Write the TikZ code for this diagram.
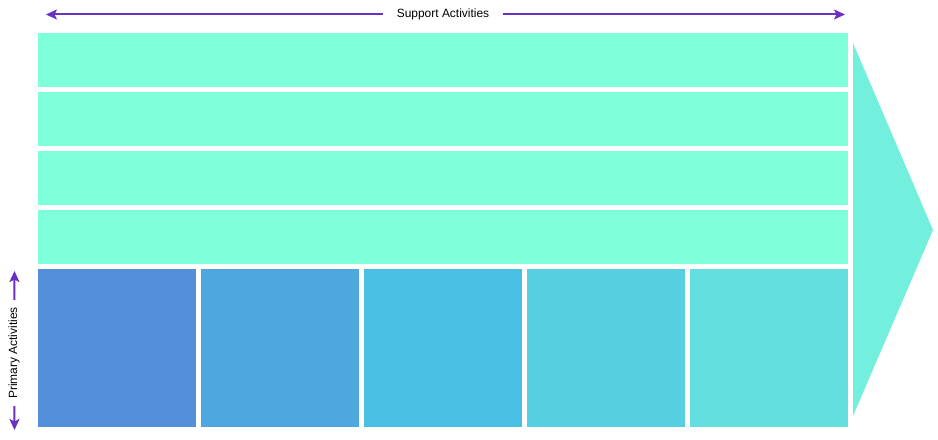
\documentclass[tikz,border=0pt]{standalone}
\usepackage{fontspec}
\setmainfont{Liberation Sans}
\usetikzlibrary{arrows.meta,positioning}
\definecolor{supportfill}{HTML}{80FFDB}
\definecolor{marginfill}{HTML}{72EFDD}
\definecolor{inbound}{HTML}{5390D9}
\definecolor{operations}{HTML}{4EA8DE}
\definecolor{outbound}{HTML}{48BFE3}
\definecolor{marketing}{HTML}{56CFE1}
\definecolor{service}{HTML}{64DFDF}
\definecolor{arrowpurple}{HTML}{6930C3}

\begin{document}
\begin{tikzpicture}[x=1bp,y=-1bp,node distance=5bp,>={Stealth[length=11bp,width=10bp,inset=2.5bp]}]
  \tikzstyle{supportrow}=[fill=supportfill,minimum width=810bp,minimum height=54bp,inner sep=0pt,outer sep=0pt]
  \tikzstyle{primarybox}=[minimum width=158bp,minimum height=158bp,inner sep=0pt,outer sep=0pt]
  \tikzstyle{label}=[font=\fontsize{12}{14}\selectfont,inner sep=0pt]
  \tikzstyle{span}=[draw=arrowpurple,line width=2bp,->]
  \useasboundingbox (0,0) rectangle (938,440);
  % support activities
  \node[supportrow] (sup1) at (443,60) {};
  \node[supportrow,below=of sup1] (sup2) {};
  \node[supportrow,below=of sup2] (sup3) {};
  \node[supportrow,below=of sup3] (sup4) {};
  % primary activities
  \node[primarybox,fill=inbound] (prim1) at (117,348) {};
  \node[primarybox,fill=operations,right=of prim1] (prim2) {};
  \node[primarybox,fill=outbound,right=of prim2] (prim3) {};
  \node[primarybox,fill=marketing,right=of prim3] (prim4) {};
  \node[primarybox,fill=service,right=of prim4] (prim5) {};
  % margin
  \coordinate (mtop) at (853,43);
  \coordinate (mtip) at (933,230);
  \coordinate (mbot) at (853,416);
  \fill[marginfill] (mtop) -- (mtip) -- (mbot) -- cycle;
  % labels and arrows
  \node[label,inner xsep=14bp] (suplabel) at (443,14.5) {Support Activities};
  \coordinate (supleft) at (46,14.5);
  \coordinate (supright) at (845,14.5);
  \draw[span] (suplabel) -- (supleft);
  \draw[span] (suplabel) -- (supright);
  \node[label,rotate=90,inner xsep=7bp] (primlabel) at (14,353) {Primary Activities};
  \coordinate (primup) at (14.5,271);
  \coordinate (primdown) at (14.5,430);
  \draw[span] (primlabel) -- (primup);
  \draw[span] (primlabel) -- (primdown);
\end{tikzpicture}
\end{document}
